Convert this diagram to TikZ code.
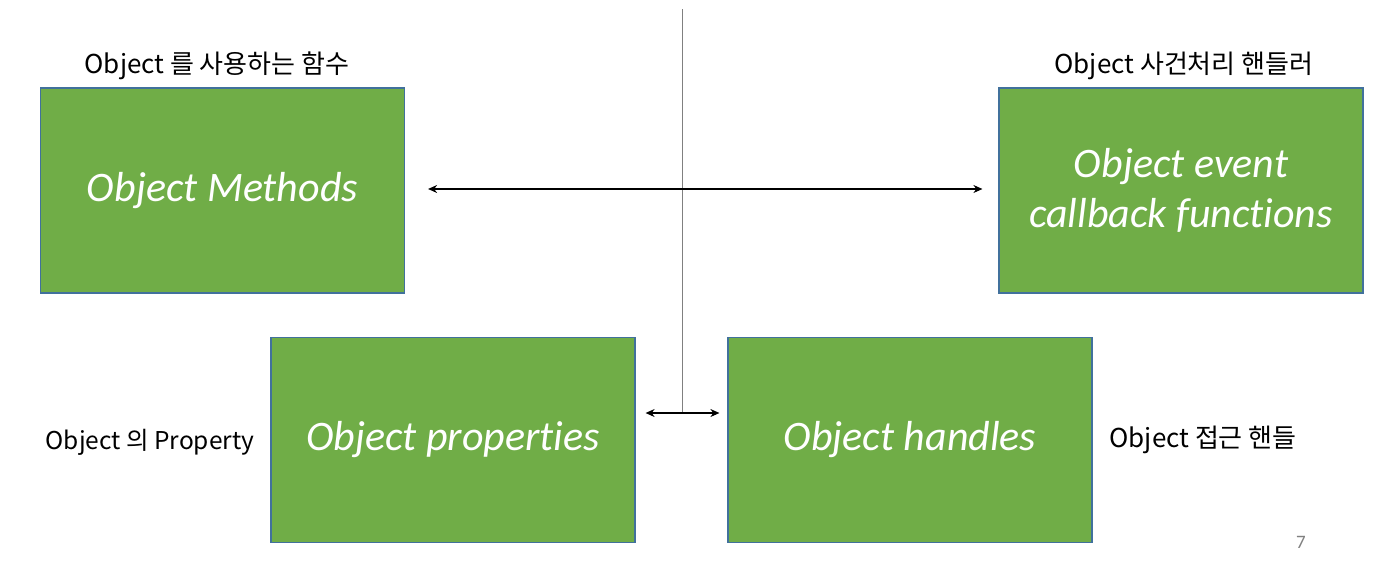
\documentclass[tikz,border=0pt]{standalone}
\usepackage{fontspec}
\setmainfont{Carlito}[Ligatures=NoCommon]
\newfontfamily\kr{Noto Sans CJK KR}
\usetikzlibrary{arrows.meta}
\definecolor{boxgreen}{HTML}{70AD47}
\definecolor{boxedge}{HTML}{41719C}

\begin{document}
\begin{tikzpicture}[x=1pt,y=-1pt,
    box/.style={rectangle,fill=boxgreen,draw=boxedge,line width=1.2pt,
        minimum width=364pt,minimum height=205pt,text=white,align=center,
        font=\fontsize{42}{50}\selectfont\itshape},
    lbl/.style={font=\kr\fontsize{26}{30}\selectfont},
    link/.style={{Stealth[length=9pt,width=8pt]}-{Stealth[length=9pt,width=8pt]},line width=1.1pt}]
\useasboundingbox (0,0) rectangle (1380,563);

    \node[box] (methods) at (222.5,190.5){Object Methods};
    \node[box] (callback) at (1181,190.5){Object event\\callback functions};
    \node[box] (props) at (453,440){Object properties};
    \node[box] (handles) at (910,440){Object handles};

    \node[lbl] (methodslbl) at (217,66){Object 를 사용하는 함수};
    \node[lbl] (callbacklbl) at (1184,66){Object 사건처리 핸들러};
    \node[lbl,font=\kr\fontsize{24.5}{28}\selectfont] (propslbl) at (150,442){Object 의 Property};
    \node[lbl] (handleslbl) at (1203,440){Object 접근 핸들};
    \node[font=\fontsize{19}{22}\selectfont,text=gray] (page) at (1301,542){7};

    \coordinate (vtop) at (682,9);
    \coordinate (vbot) at (682,413);
    \draw[gray,line width=1pt] (vtop) -- (vbot);

    \path [link] ([yshift=1.5pt]methods.east) edge[shorten <=23pt, shorten >=16pt] ([yshift=1.5pt]callback.west);
    \path [link] ([yshift=27pt]props.east) edge[shorten <=10pt, shorten >=8pt] ([yshift=27pt]handles.west);

\end{tikzpicture}
\end{document}
